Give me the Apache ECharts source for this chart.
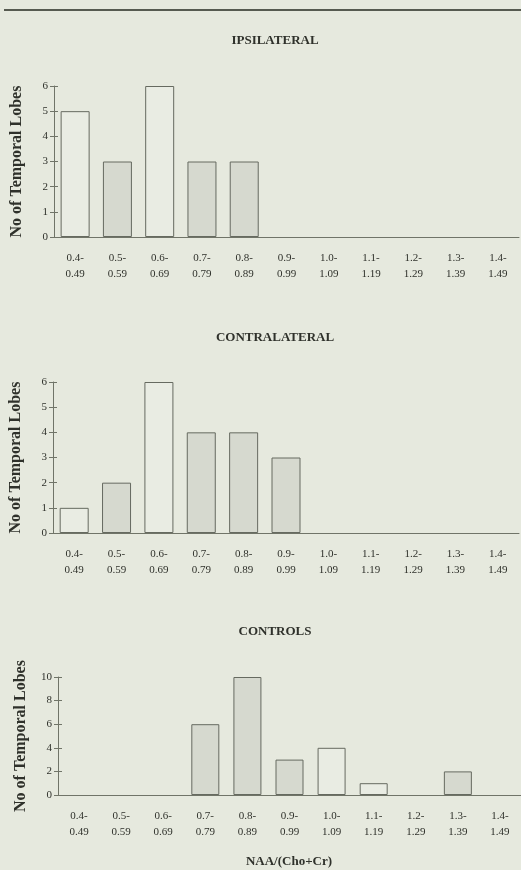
<!DOCTYPE html>
<html>
<head>
<meta charset="utf-8">
<script src="https://cdn.jsdelivr.net/npm/echarts@6/dist/echarts.min.js"></script>
<style>
html,body{margin:0;padding:0;background:#e6e9de;}
#c{width:521px;height:870px;}
</style>
</head>
<body>
<div id="c"></div>
<script>
// ---- data ----
var categories = ['0.4-\n0.49','0.5-\n0.59','0.6-\n0.69','0.7-\n0.79','0.8-\n0.89','0.9-\n0.99','1.0-\n1.09','1.1-\n1.19','1.2-\n1.29','1.3-\n1.39','1.4-\n1.49'];
var ipsilateral   = [5, 3, 6, 3, 3, 0, 0, 0, 0, 0, 0];
var contralateral = [1, 2, 6, 4, 4, 3, 0, 0, 0, 0, 0];
var controls      = [0, 0, 0, 6, 10, 3, 4, 1, 0, 2, 0];
var panelTitles = ['IPSILATERAL', 'CONTRALATERAL', 'CONTROLS'];
var yTitle = 'No of Temporal Lobes';
var xTitle = 'NAA/(Cho+Cr)';

// ---- styles (kept apart from data) ----
var lightBars = [[0, 2], [0, 2], [6, 7]];
var serif = '"Liberation Serif", "DejaVu Serif", serif';
var txt = '#2f312b';
var axisCol = '#707468';
var grayFill = '#d6d9cf';
var lightFill = '#e9ece3';

var panels = [
  {vals: ipsilateral,   top: 86,  h: 151, left: 54, w: 465, max: 6,  iv: 1, titleY: 29},
  {vals: contralateral, top: 382, h: 151, left: 52, w: 467, max: 6,  iv: 1, titleY: 326},
  {vals: controls,      top: 677, h: 118, left: 58, w: 463, max: 10, iv: 2, titleY: 620}
];

var grids = [], xAxes = [], yAxes = [], series = [], titles = [];
panels.forEach(function (p, i) {
  grids.push({left: p.left, top: p.top, width: p.w, height: p.h});
  titles.push({text: panelTitles[i], left: 270, top: p.titleY, textAlign: 'center',
    textStyle: {fontFamily: serif, fontSize: 13, fontWeight: 'bold', color: txt}});
  xAxes.push({type: 'category', gridIndex: i, data: categories,
    axisLine: {lineStyle: {color: axisCol, width: 1}},
    axisTick: {length: 4, lineStyle: {color: axisCol}},
    axisLabel: {fontFamily: serif, fontSize: 11, color: txt, lineHeight: 16, margin: 13, interval: 0}});
  xAxes.push({type: 'category', gridIndex: i, data: categories, position: 'bottom',
    axisLine: {show: false}, axisLabel: {show: false},
    axisTick: {inside: true, length: 4, lineStyle: {color: axisCol}}});
  yAxes.push({type: 'value', gridIndex: i, min: 0, max: p.max, interval: p.iv,
    splitLine: {show: false},
    axisLine: {show: true, lineStyle: {color: axisCol, width: 1}},
    axisTick: {show: true, length: 4, lineStyle: {color: axisCol}},
    axisLabel: {fontFamily: serif, fontSize: 11, color: txt, margin: 6},
    name: yTitle, nameLocation: 'middle', nameRotate: 90, nameGap: 29,
    nameTextStyle: {fontFamily: serif, fontSize: 16, fontWeight: 'bold', color: txt}});
  yAxes.push({type: 'value', gridIndex: i, min: 0, max: p.max, interval: p.iv, position: 'left',
    splitLine: {show: false}, axisLine: {show: false}, axisLabel: {show: false},
    axisTick: {show: true, inside: true, length: 4, lineStyle: {color: axisCol}}});
  series.push({type: 'bar', xAxisIndex: i * 2, yAxisIndex: i * 2,
    barWidth: i === 2 ? 28 : 29,
    data: p.vals.map(function (v, k) {
      return {value: v === 0 ? '-' : v,
        itemStyle: {color: lightBars[i].indexOf(k) >= 0 ? lightFill : grayFill,
          borderColor: '#666a60', borderWidth: 1}};
    })});
});

var chart = echarts.init(document.getElementById('c'), null, {renderer: 'canvas'});
chart.setOption({
  backgroundColor: '#e6e9de',
  animation: false,
  title: titles,
  grid: grids,
  xAxis: xAxes,
  yAxis: yAxes,
  series: series,
  graphic: [
    {type: 'line', shape: {x1: 4, y1: 10, x2: 521, y2: 10}, style: {stroke: '#565a50', lineWidth: 2}},
    {type: 'text', x: 289, y: 862, style: {text: xTitle, textAlign: 'center', textVerticalAlign: 'middle',
      font: 'bold 13px ' + serif, fill: txt}}
  ]
});
</script>
</body>
</html>
